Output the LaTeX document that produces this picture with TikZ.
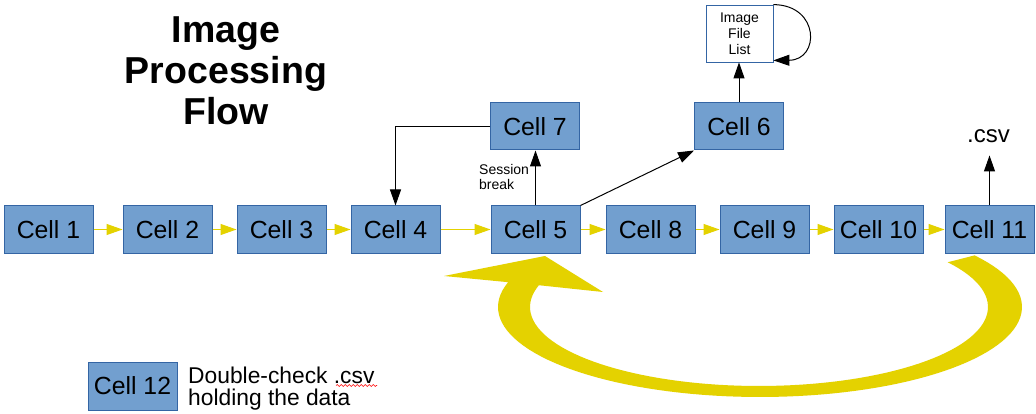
\documentclass[tikz,border=0pt]{standalone}
\usepackage{fontspec}
\setmainfont{Liberation Sans}
\usetikzlibrary{arrows.meta,decorations.pathmorphing}
\definecolor{boxfill}{HTML}{729FCF}
\definecolor{boxline}{HTML}{3465A4}
\definecolor{flowyel}{RGB}{228,210,0}
\begin{document}
\begin{tikzpicture}[x=1pt,y=-1pt,
  cellbox/.style={rectangle,draw=boxline,fill=boxfill,line width=1pt,minimum width=89pt,minimum height=47pt,inner sep=0pt,font=\fontsize{24.8}{28}\selectfont},
  yarrow/.style={draw=flowyel,line width=1pt,-{Triangle[length=16pt,width=11pt,fill=flowyel]}},
  barrow/.style={draw=black,line width=1pt,-{Triangle[length=16pt,width=11pt]}}]
\useasboundingbox[fill=white] (0,0) rectangle (1036,414);

% big return arrow
\fill[flowyel] plot[domain=-35:196,samples=90,variable=\t] ({760+262*cos(\t)},{307+90*sin(\t)})
  -- (444,276) -- (545,256) -- (603,292)
  -- plot[domain=196:-34.5,samples=90,variable=\t] ({759+229*cos(\t)},{307+79*sin(\t)}) -- cycle;

% title
\node[font=\bfseries\fontsize{37.5}{41}\selectfont,align=center,anchor=north,inner sep=0pt] (title) at (226,16.5) {Image\\Processing\\Flow};

% main row
\node[cellbox] (c1) at (48.5,229.5) {Cell 1};
\node[cellbox] (c2) at (167.5,229.5) {Cell 2};
\node[cellbox] (c3) at (281.5,229.5) {Cell 3};
\node[cellbox] (c4) at (395.5,229.5) {Cell 4};
\node[cellbox] (c5) at (535.5,229.5) {Cell 5};
\node[cellbox] (c8) at (650.5,229.5) {Cell 8};
\node[cellbox] (c9) at (764.5,229.5) {Cell 9};
\node[cellbox] (c10) at (878.5,229.5) {Cell 10};
\node[cellbox] (c11) at (989.5,229.5) {Cell 11};

% upper row
\node[cellbox] (c7) at (535,126.5) {Cell 7};
\node[cellbox] (c6) at (739,126.5) {Cell 6};
\node[rectangle,draw=boxline,fill=white,line width=0.8pt,minimum width=67pt,minimum height=57pt,inner sep=0pt,align=center,font=\fontsize{14}{16}\selectfont] (ifl) at (739.5,33.5) {Image\\File\\List};
\node[font=\fontsize{24}{28}\selectfont,inner sep=0pt,anchor=base] (csv) at (988.5,143) {.csv};
\node[font=\fontsize{14}{15.5}\selectfont,align=left,anchor=north west,inner sep=0pt] (sb) at (479,164) {Session\\break};

% cell 12
\node[cellbox,minimum height=48pt] (c12) at (132.5,386) {Cell 12};
\node[font=\fontsize{22.8}{22}\selectfont,align=left,anchor=north west,inner sep=0pt] (note) at (188,366.5) {Double-check .csv\\holding the data};
\draw[red,line width=0.6pt,decorate,decoration={snake,amplitude=0.9pt,segment length=4pt}] (336,385.5) -- (377,385.5);

% yellow flow arrows
\draw[yarrow] (c1) -- (c2);
\draw[yarrow] (c2) -- (c3);
\draw[yarrow] (c3) -- (c4);
\draw[yarrow] (c4) -- (c5);
\draw[yarrow] (c5) -- (c8);
\draw[yarrow] (c8) -- (c9);
\draw[yarrow] (c9) -- (c10);
\draw[yarrow] (c10) -- (c11);

% black arrows
\draw[barrow] (c5.north) -- (c5.north |- c7.south);
\draw[barrow] (c7.west) -| (c4.north);
\draw[barrow] (c5.north east) -- (c6.south west);
\draw[barrow] (c6.north) -- (c6.north |- ifl.south);
\draw[barrow] (ifl.north east) .. controls (820,5) and (820,60) .. ([yshift=2pt]ifl.south east);
\draw[barrow,shorten >=12pt] (c11.north) -- (c11.north |- csv.south);
\end{tikzpicture}
\end{document}
